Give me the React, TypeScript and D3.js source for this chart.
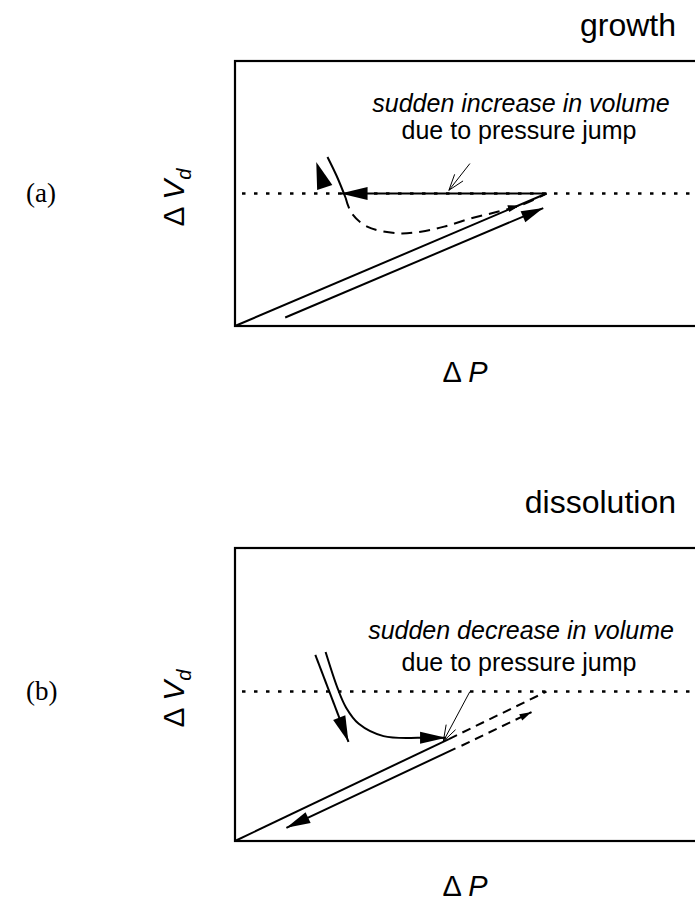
import React from "react";
import * as d3 from "d3";

// ---------- data (arbitrary units: ΔP on x, ΔV_d on y, 0..100) ----------
const panelLabels = ["(a)", "(b)"];
const panelTitles = ["growth", "dissolution"];
const annotationLine1 = ["sudden increase in volume", "sudden decrease in volume"];
const annotationLine2 = "due to pressure jump";
const xLabel = "P";
const yLabel = "V";
const ySub = "d";

// growth panel
const gLevel = 50;
const gLoading: [number, number][] = [[0, 0], [66.7, 50]];
const gLoadingArrow: [number, number][] = [[10.75, 3.2], [66, 44.5]];
const gJump: [number, number][] = [[66.7, 50], [22.6, 50]];
const gSolidCurve: [number, number][] = [[19.8, 63.8], [21.8, 56.5], [23.7, 48.3]];
const gDashedCurve: [number, number][] = [
  [23.7, 48.3], [25.0, 42.5], [28.3, 37.5], [34.8, 35.0], [39.8, 35.6],
  [44.8, 37.5], [50.5, 40.6], [56.2, 43.1], [61.3, 45.6], [66.7, 50],
];
const gDashedHead: [number, number][] = [[55.0, 42.6], [61.0, 45.5]];
const gReturnHead: [number, number][] = [[19.3, 51.8], [17.4, 61.9]];
const gPointer: [number, number][] = [[50.3, 61.3], [45.8, 51.2]];

// dissolution panel
const dLevel = 51;
const dLoading: [number, number][] = [[0, 0], [45.8, 34.8]];
const dLoadingDashed: [number, number][] = [[45.8, 34.8], [66.7, 51]];
const dUnloadArrow: [number, number][] = [[47.2, 31.6], [11, 4.5]];
const dUnloadDashed: [number, number][] = [[48.5, 32.5], [63.5, 44]];
const dStraightArrow: [number, number][] = [[17.2, 63.5], [24.3, 33.8]];
const dCurveArrow: [number, number][] = [
  [19.4, 64.5], [22.0, 52.0], [23.8, 45.5], [26.5, 40.0], [31.8, 35.8], [39.8, 35.2], [45.2, 35.2],
];
const dPointer: [number, number][] = [[50.3, 51], [44.6, 34.0]];

// ---------- layout ----------
const W = 695, H = 904;
const BOX_L = 235, BOX_R = 702;
const panels = [
  { top: 61, bottom: 326, titleY: 36, labelY: 382, ann: [112, 139] },
  { top: 548, bottom: 841, titleY: 513, labelY: 896, ann: [639, 671] },
];

function headPath(tip: [number, number], from: [number, number], len: number, half: number) {
  const dx = tip[0] - from[0], dy = tip[1] - from[1];
  const L = Math.hypot(dx, dy);
  const ux = dx / L, uy = dy / L;
  const bx = tip[0] - ux * len, by = tip[1] - uy * len;
  const px = -uy, py = ux;
  return `M${tip[0]},${tip[1]}L${bx + px * half},${by + py * half}L${bx - px * half},${by - py * half}Z`;
}

function Pointer({ pts, x, y }: { pts: [number, number][]; x: any; y: any }) {
  const a: [number, number] = [x(pts[0][0]), y(pts[0][1])];
  const t: [number, number] = [x(pts[1][0]), y(pts[1][1])];
  const ang = Math.atan2(a[1] - t[1], a[0] - t[0]);
  const l = 17;
  const s = 0.32;
  const p1 = [t[0] + l * Math.cos(ang + s), t[1] + l * Math.sin(ang + s)];
  const p2 = [t[0] + l * Math.cos(ang - s), t[1] + l * Math.sin(ang - s)];
  return (
    <g stroke="#000" strokeWidth={1} fill="none">
      <line x1={a[0]} y1={a[1]} x2={t[0]} y2={t[1]} />
      <line x1={p1[0]} y1={p1[1]} x2={t[0]} y2={t[1]} />
      <line x1={p2[0]} y1={p2[1]} x2={t[0]} y2={t[1]} />
    </g>
  );
}

export default function App() {
  const x = d3.scaleLinear().domain([0, 100]).range([BOX_L, BOX_R]);
  const ys = panels.map((p) => d3.scaleLinear().domain([0, 100]).range([p.bottom, p.top]));
  const sans = "'Liberation Sans', Arial, Helvetica, sans-serif";

  const renderPanel = (i: number) => {
    const p = panels[i];
    const y = ys[i];
    const line = d3.line<[number, number]>().x((d) => x(d[0])).y((d) => y(d[1]));
    const smooth = d3.line<[number, number]>().x((d) => x(d[0])).y((d) => y(d[1])).curve(d3.curveCatmullRom.alpha(0.5));
    const pt = (d: [number, number]): [number, number] => [x(d[0]), y(d[1])];
    const cy = (p.top + p.bottom) / 2 + 4;
    const level = i === 0 ? gLevel : dLevel;
    const strokeW = 2;

    return (
      <g key={i}>
        {/* panel letter */}
        <text x={26} y={y(level) + 8} fontFamily="'Liberation Serif', 'Times New Roman', serif" fontSize={27}>
          {panelLabels[i]}
        </text>
        {/* title */}
        <text x={676} y={p.titleY} textAnchor="end" fontFamily={sans} fontSize={32}>
          {panelTitles[i]}
        </text>
        {/* box */}
        <rect x={BOX_L} y={p.top} width={BOX_R - BOX_L} height={p.bottom - p.top} fill="none" stroke="#000" strokeWidth={2.2} />
        {/* y label */}
        <text transform={`translate(184,${cy}) rotate(-90)`} textAnchor="middle" fontFamily={sans} fontSize={30}>
          <tspan>Δ </tspan>
          <tspan fontStyle="italic">{yLabel}</tspan>
          <tspan fontStyle="italic" fontSize={20} dy={7}>{ySub}</tspan>
        </text>
        {/* x label */}
        <text x={465} y={p.labelY} textAnchor="middle" fontFamily={sans} fontSize={29}>
          <tspan>Δ </tspan>
          <tspan fontStyle="italic">{xLabel}</tspan>
        </text>
        {/* annotation */}
        <text x={521} y={p.ann[0]} textAnchor="middle" fontFamily={sans} fontSize={25} fontStyle="italic">
          {annotationLine1[i]}
        </text>
        <text x={519} y={p.ann[1]} textAnchor="middle" fontFamily={sans} fontSize={25}>
          {annotationLine2}
        </text>
        {/* dotted level */}
        <line x1={x(1.5)} x2={x(100)} y1={y(level)} y2={y(level)} stroke="#000" strokeWidth={2.5} strokeDasharray="3.5 8.5" />

        {i === 0 ? (
          <g>
            <path d={line(gLoading)!} stroke="#000" strokeWidth={strokeW} fill="none" />
            <path d={line(gLoadingArrow)!} stroke="#000" strokeWidth={strokeW} fill="none" />
            <path d={headPath(pt(gLoadingArrow[1]), pt(gLoadingArrow[0]), 22, 6)} fill="#000" />
            <path d={line(gJump)!} stroke="#000" strokeWidth={strokeW} fill="none" />
            <path d={headPath(pt(gJump[1]), pt(gJump[0]), 27, 6.5)} fill="#000" />
            <path d={smooth(gSolidCurve)!} stroke="#000" strokeWidth={strokeW} fill="none" />
            <path d={smooth(gDashedCurve)!} stroke="#000" strokeWidth={strokeW} fill="none" strokeDasharray="11 7" />
            <path d={headPath(pt(gDashedHead[1]), pt(gDashedHead[0]), 12, 3.5)} fill="#000" />
            <path d={headPath(pt(gReturnHead[1]), pt(gReturnHead[0]), 27, 8)} fill="#000" />
            <Pointer pts={gPointer} x={x} y={y} />
          </g>
        ) : (
          <g>
            <path d={line(dLoading)!} stroke="#000" strokeWidth={strokeW} fill="none" />
            <path d={line(dLoadingDashed)!} stroke="#000" strokeWidth={strokeW} fill="none" strokeDasharray="9 6" />
            <path d={line(dUnloadArrow)!} stroke="#000" strokeWidth={strokeW} fill="none" />
            <path d={headPath(pt(dUnloadArrow[1]), pt(dUnloadArrow[0]), 24, 6)} fill="#000" />
            <path d={line(dUnloadDashed)!} stroke="#000" strokeWidth={strokeW} fill="none" strokeDasharray="9 6" />
            <path d={headPath(pt(dUnloadDashed[1]), pt(dUnloadDashed[0]), 12, 3.5)} fill="#000" />
            <path d={line(dStraightArrow)!} stroke="#000" strokeWidth={strokeW} fill="none" />
            <path d={headPath(pt(dStraightArrow[1]), pt(dStraightArrow[0]), 26, 6.5)} fill="#000" />
            <path d={smooth(dCurveArrow)!} stroke="#000" strokeWidth={strokeW} fill="none" />
            <path d={headPath(pt(dCurveArrow[dCurveArrow.length - 1]), pt(dCurveArrow[dCurveArrow.length - 2]), 26, 6)} fill="#000" />
            <Pointer pts={dPointer} x={x} y={y} />
          </g>
        )}
      </g>
    );
  };

  return (
    <svg width={W} height={H} style={{ position: "absolute", left: 0, top: 0, background: "#fff" }}>
      <rect x={0} y={0} width={W} height={H} fill="#fff" />
      {renderPanel(0)}
      {renderPanel(1)}
    </svg>
  );
}
